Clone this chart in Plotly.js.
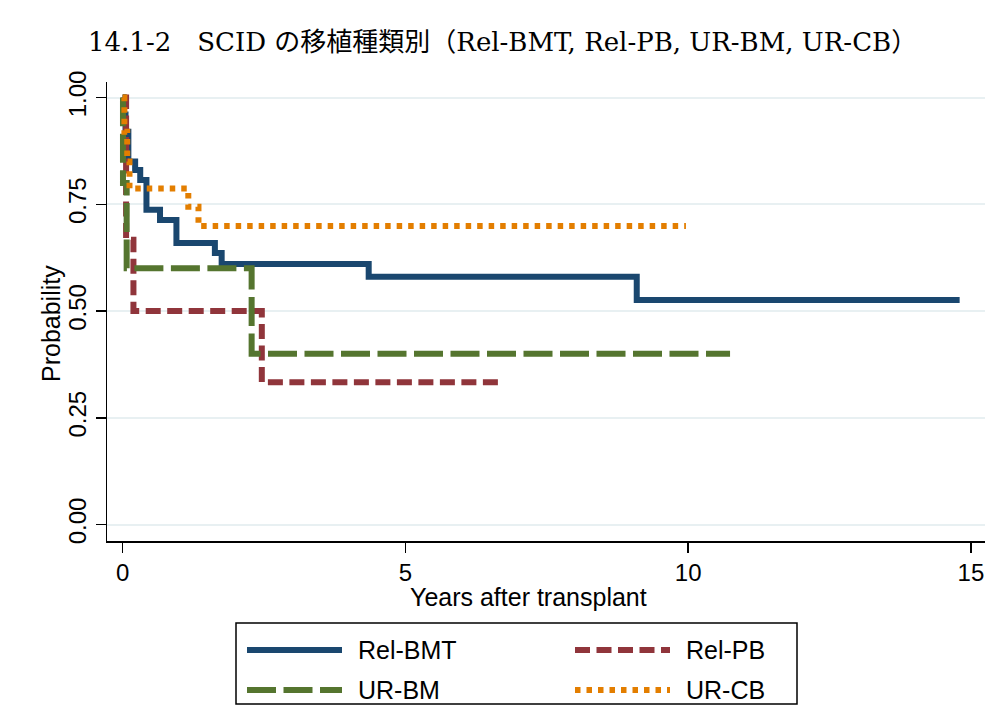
<!DOCTYPE html>
<html>
<head>
<meta charset="utf-8">
<script src="https://cdn.plot.ly/plotly-3.0.1.min.js"></script>
<style>html,body{margin:0;padding:0;background:#fff;}#chart{width:1008px;height:707px;}</style>
</head>
<body>
<div id="chart"></div>
<script>
// ---- Data ----
const seriesNames = ["Rel-BMT", "Rel-PB", "UR-BM", "UR-CB"];

const relBmtTime = [0, 0.02, 0.05, 0.10, 0.22, 0.31, 0.42, 0.66, 0.95, 1.63, 1.75, 4.35, 9.09, 14.80];
const relBmtSurv = [1, 0.96, 0.92, 0.850, 0.830, 0.807, 0.737, 0.713, 0.659, 0.636, 0.610, 0.580, 0.526, 0.526];

const relPbTime = [0, 0.06, 0.19, 2.46, 6.72];
const relPbSurv = [1, 0.667, 0.500, 0.333, 0.333];

const urBmTime = [0, 0.005, 0.07, 2.28, 10.74];
const urBmSurv = [1, 0.800, 0.600, 0.400, 0.400];

const urCbTime = [0, 0.03, 0.08, 0.12, 1.16, 1.34, 9.96];
const urCbSurv = [1, 0.92, 0.85, 0.787, 0.744, 0.699, 0.699];

const xTickVals = [0, 5, 10, 15];
const yTickVals = [0, 0.25, 0.5, 0.75, 1];
const yTickText = ["0.00", "0.25", "0.50", "0.75", "1.00"];

const titleText = "14.1-2\u3000SCID の移植種類別（Rel-BMT, Rel-PB, UR-BM, UR-CB）";
const xTitle = "Years after transplant";
const yTitle = "Probability";

// ---- Styles ----
const colors = ["#1A476F", "#90353B", "#55752F", "#E37E00"];
const dashes = ["solid", "15px,6.5px", "29px,7.5px", "5.5px,6px"];
const widths = [6, 6, 6, 6];

const times = [relBmtTime, relPbTime, urBmTime, urCbTime];
const survs = [relBmtSurv, relPbSurv, urBmSurv, urCbSurv];

const traces = seriesNames.map((name, i) => ({
  type: "scatter",
  mode: "lines",
  name: name,
  x: times[i],
  y: survs[i],
  line: { shape: "hv", color: colors[i], width: widths[i], dash: dashes[i] },
  showlegend: false,
  hoverinfo: "x+y+name"
}));

// plot area in pixels: x 107..985, y 82..541
const L = 107, R = 985, T = 82, B = 541;
const W = R - L, H = B - T;
const px = p => (p - L) / W;
const py = p => (B - p) / H;

const tickFont = { family: "Liberation Sans, Arial, sans-serif", size: 24, color: "#000" };
const titleFont = { family: "Liberation Sans, Arial, sans-serif", size: 25, color: "#000" };

// Legend (drawn as a box with key lines and labels)
const legendShapes = [{
  type: "rect", xref: "paper", yref: "paper",
  x0: px(236), x1: px(797), y0: py(704), y1: py(623),
  line: { color: "#000", width: 1.5 }, fillcolor: "rgba(0,0,0,0)"
}];
const keyPos = [[247, 650], [575, 650], [247, 690], [575, 690]];
const legendAnn = [];
seriesNames.forEach((name, i) => {
  const [kx, ky] = keyPos[i];
  legendShapes.push({
    type: "line", xref: "paper", yref: "paper",
    x0: px(kx), x1: px(kx + 95), y0: py(ky), y1: py(ky),
    line: { color: colors[i], width: widths[i], dash: dashes[i] }
  });
  legendAnn.push({
    xref: "paper", yref: "paper", x: px(kx + 109), y: py(ky),
    xanchor: "left", yanchor: "middle", showarrow: false,
    text: name, font: { family: "Liberation Sans, Arial, sans-serif", size: 25, color: "#000" }
  });
});

const layout = {
  width: 1008, height: 707,
  paper_bgcolor: "#fff", plot_bgcolor: "#fff",
  margin: { l: L, r: 1008 - R, t: T, b: 707 - B, pad: 0 },
  title: {
    text: titleText,
    x: 88 / 1008, xanchor: "left", xref: "container",
    y: 1 - 42 / 707, yanchor: "middle", yref: "container",
    font: { family: "DejaVu Serif, Noto Sans CJK JP, serif", size: 26, color: "#000" }
  },
  xaxis: {
    range: [(L - 122.7) / 56.55, (R - 122.7) / 56.55],
    tickvals: xTickVals, ticktext: xTickVals.map(String),
    ticks: "outside", ticklen: 10, tickwidth: 1.5, tickcolor: "#000",
    showline: true, linecolor: "#000", linewidth: 1.5,
    showgrid: false, zeroline: false,
    tickfont: tickFont, fixedrange: true
  },
  yaxis: {
    range: [(524.5 - B) / 427, (524.5 - T) / 427],
    tickvals: yTickVals, ticktext: yTickText, tickangle: -90,
    ticks: "outside", ticklen: 10, tickwidth: 1.5, tickcolor: "#000",
    showline: true, linecolor: "#000", linewidth: 1.5,
    showgrid: true, gridcolor: "#E8F0F2", gridwidth: 2,
    zeroline: false, tickfont: tickFont, fixedrange: true
  },
  shapes: legendShapes,
  annotations: [
    { xref: "paper", yref: "paper", x: px(528), y: py(597), xanchor: "center", yanchor: "middle",
      showarrow: false, text: xTitle, font: titleFont },
    { xref: "paper", yref: "paper", x: px(51), y: py(323), xanchor: "center", yanchor: "middle",
      showarrow: false, text: yTitle, textangle: -90, font: titleFont }
  ].concat(legendAnn),
  showlegend: false
};

Plotly.newPlot("chart", traces, layout, { displayModeBar: false, staticPlot: true });
</script>
</body>
</html>
